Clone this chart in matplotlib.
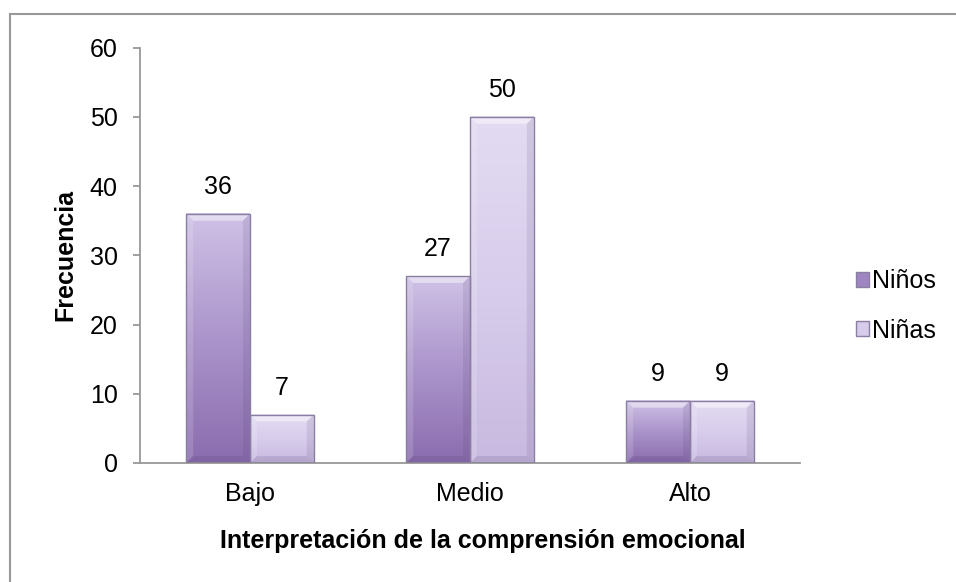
import numpy as np
import matplotlib
matplotlib.use("Agg")
import matplotlib.pyplot as plt
import matplotlib.patches as mpatches
from matplotlib.colors import LinearSegmentedColormap

categories = ["Bajo", "Medio", "Alto"]
ninos = [36, 27, 9]
ninas = [7, 50, 9]
series_names = ["Niños", "Niñas"]

plt.rcParams["font.family"] = ["Liberation Sans", "DejaVu Sans"]

W, H = 956, 582
fig = plt.figure(figsize=(W / 100, H / 100), dpi=100)
ax_left, ax_right, ax_top, ax_bottom = 140, 800, 47.5, 463
ax = fig.add_axes([ax_left / W, 1 - ax_bottom / H,
                   (ax_right - ax_left) / W, (ax_bottom - ax_top) / H])

cmap_boys = LinearSegmentedColormap.from_list("boys", ["#8a6cae", "#ab94cb", "#cfc2e6"])
cmap_girls = LinearSegmentedColormap.from_list("girls", ["#c8b9e0", "#d8cdec", "#e3dbf2"])
grad = np.linspace(0, 1, 256).reshape(-1, 1)

width = 0.29
x = np.arange(len(categories))
ymax = 60
px_x = len(categories) / (ax_right - ax_left)   # data units per pixel
px_y = ymax / (ax_bottom - ax_top)


def gradient_bar(xc, h, cmap):
    x0, x1 = xc - width / 2, xc + width / 2
    ax.imshow(grad, cmap=cmap, origin="lower", aspect="auto",
              extent=(x0, x1, 0, h), zorder=2)
    bx = 7 * px_x
    by = min(7 * px_y, h * 0.3)
    # bevel faces: top light, left light, right and bottom darker
    faces = [
        ([(x0, h), (x1, h), (x1 - bx, h - by), (x0 + bx, h - by)], "white", 0.45),
        ([(x0, 0), (x0, h), (x0 + bx, h - by), (x0 + bx, by)], "white", 0.15),
        ([(x1, 0), (x1, h), (x1 - bx, h - by), (x1 - bx, by)], "#4a3a66", 0.12),
        ([(x0, 0), (x1, 0), (x1 - bx, by), (x0 + bx, by)], "#4a3a66", 0.15),
    ]
    for pts, col, a in faces:
        ax.add_patch(mpatches.Polygon(pts, closed=True, facecolor=col, alpha=a,
                                      edgecolor="none", zorder=3))
    ax.add_patch(mpatches.Rectangle((x0, 0), width, h, facecolor="none",
                                    edgecolor="#8a7ea3", linewidth=1.0, zorder=4))


for i in range(len(categories)):
    gradient_bar(x[i] - width / 2, ninos[i], cmap_boys)
    gradient_bar(x[i] + width / 2, ninas[i], cmap_girls)
    ax.text(x[i] - width / 2, ninos[i] + 27 * px_y, str(ninos[i]), ha="center", va="center", fontsize=18)
    ax.text(x[i] + width / 2, ninas[i] + 27 * px_y, str(ninas[i]), ha="center", va="center", fontsize=18)

ax.set_xlim(-0.5, len(categories) - 0.5)
ax.set_ylim(0, ymax)
ax.set_yticks(range(0, 61, 10))
ax.tick_params(axis="y", labelsize=18, length=5, width=1.3, color="#999999", pad=11)
ax.set_xticks(x)
ax.set_xticklabels(categories, fontsize=18)
ax.tick_params(axis="x", length=0, pad=14)

for s in ["top", "right"]:
    ax.spines[s].set_visible(False)
for s in ["left", "bottom"]:
    ax.spines[s].set_color("#999999")
    ax.spines[s].set_linewidth(1.3)

ax.set_ylabel("Frecuencia", fontsize=18, fontweight="bold")
ax.yaxis.set_label_coords((65 - ax_left) / (ax_right - ax_left), 0.5)
ax.set_xlabel("Interpretación de la comprensión emocional", fontsize=18, fontweight="bold")
ax.xaxis.set_label_coords((483 - ax_left) / (ax_right - ax_left),
                          -(541 - ax_bottom) / (ax_bottom - ax_top))
ax.xaxis.label.set_va("center")
ax.yaxis.label.set_va("center")

handles = [mpatches.Patch(facecolor="#9f86c3", edgecolor="#8a7ea3"),
           mpatches.Patch(facecolor="#d6cbea", edgecolor="#8a7ea3")]
fig.legend(handles, series_names, loc="center left", bbox_to_anchor=(843 / W, 1 - 306 / H),
           frameon=False, fontsize=18, handlelength=0.55, handleheight=0.55,
           handletextpad=0.1, labelspacing=1.0, borderpad=0)

# outer chart border
fig.add_artist(plt.Line2D([10 / W, 10 / W], [0, 1 - 14 / H], transform=fig.transFigure,
                          color="#999999", linewidth=1.5))
fig.add_artist(plt.Line2D([10 / W, 1], [1 - 14 / H, 1 - 14 / H], transform=fig.transFigure,
                          color="#999999", linewidth=1.5))

fig.savefig("out.png", dpi=100)
